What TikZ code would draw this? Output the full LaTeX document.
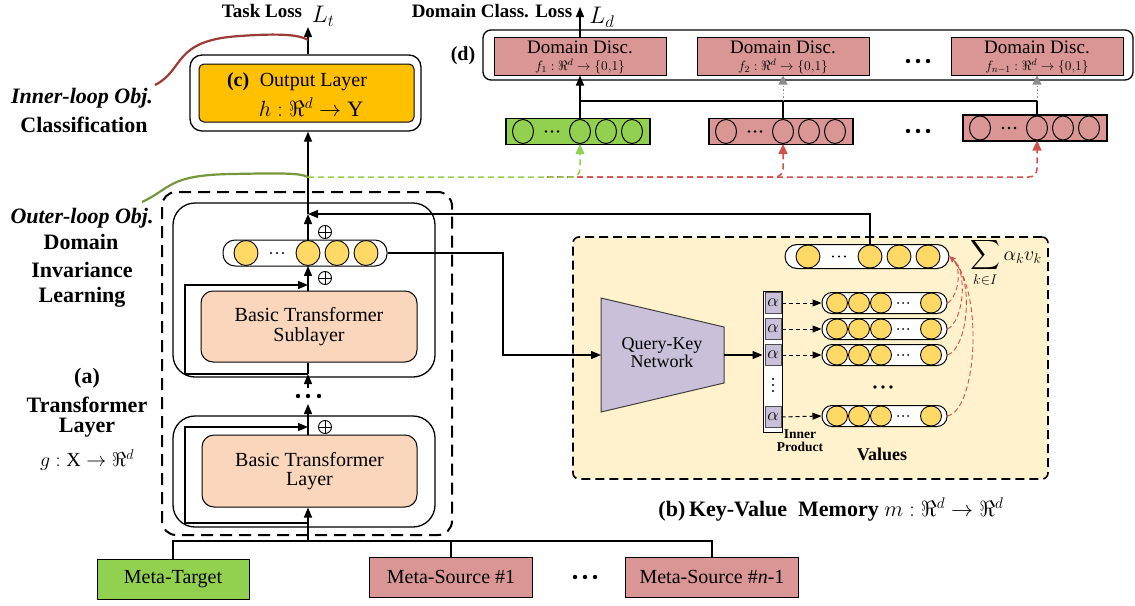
\RequirePackage{fix-cm}
\documentclass[tikz,border=0pt]{standalone}
\usepackage{exscale}
\usepackage{fontspec}
\setmainfont{Liberation Serif}
\usetikzlibrary{arrows.meta,calc,shapes.geometric}

\definecolor{outorange}{HTML}{FFC000}
\definecolor{peach}{HTML}{F9D6BC}
\definecolor{tgtgreen}{HTML}{92D050}
\definecolor{srcpink}{HTML}{D99694}
\definecolor{cellyellow}{HTML}{FFD966}
\definecolor{memback}{HTML}{FFF2CC}
\definecolor{lavender}{HTML}{CBC0DA}
\definecolor{dashred}{HTML}{D0504C}
\definecolor{innerred}{HTML}{9B3B36}
\definecolor{outergreen}{HTML}{76963C}
\definecolor{dashgreen}{HTML}{92D050}
\definecolor{tipgray}{HTML}{8C8C8C}

\newcommand\fsz[2]{\fontsize{#1}{#2}\selectfont}

\tikzset{
  line/.style={line width=1.3pt},
  arr/.style={line width=1.3pt, -{Triangle[length=10pt,width=8pt]}},
  blk/.style={draw, line width=1.3pt, rounded corners=22pt, inner sep=0pt},
  peachbox/.style={draw, fill=peach, line width=1pt, rounded corners=12pt, inner sep=0pt, align=center, font=\fsz{20}{19.5}},
  pill/.style={draw, fill=white, line width=1pt, minimum width=164pt, rounded corners=12pt, inner sep=0pt},
  ycell/.style={ellipse, draw, fill=cellyellow, line width=0.9pt, inner sep=0pt},
  dvec/.style={draw, line width=1.3pt, minimum width=144pt, minimum height=26pt, inner sep=0pt},
  dcell/.style={ellipse, draw, line width=1pt, minimum width=21pt, minimum height=24pt, inner sep=0pt},
  disc/.style={draw, fill=srcpink, line width=1pt, minimum width=172pt, minimum height=38pt, inner sep=0pt},
  metabox/.style={draw, line width=1pt, minimum height=40pt, inner sep=0pt},
  alphacell/.style={draw=black!70, fill=lavender, line width=1pt, minimum width=16pt, minimum height=21pt, inner sep=0pt, font=\fsz{18}{18}},
  lab/.style={font=\bfseries\fsz{22}{24}, inner sep=0pt},
  oplus/.style={circle, draw, line width=0.9pt, minimum size=13pt, inner sep=0pt,
    path picture={\draw[line width=0.9pt] (path picture bounding box.north) -- (path picture bounding box.south)
      (path picture bounding box.west) -- (path picture bounding box.east);}},
  gdash/.style={draw=dashgreen, line width=1.5pt, dash pattern=on 6pt off 4pt, rounded corners=8pt, -{Triangle[length=10pt,width=9pt]}},
  rdash/.style={draw=dashred, line width=1.5pt, dash pattern=on 6pt off 4pt, rounded corners=8pt, -{Triangle[length=10pt,width=9pt]}},
  grayarr/.style={draw=tipgray, line width=1pt, dash pattern=on 1.5pt off 2pt, -{Triangle[length=9pt,width=9pt]}},
  dasharr/.style={line width=1pt, dash pattern=on 4pt off 3pt, -{Triangle[length=9pt,width=7pt]}},
  redcurve/.style={draw=dashred, line width=0.9pt, dash pattern=on 5pt off 3pt, -{Stealth[length=6pt,width=5pt]}},
}

% row of yellow cells inside a rounded pill
\newcommand\cellpill[4]{%
  \node[pill, minimum height=#4pt] (#1) at (#2,#3) {};
  \foreach \o [count=\k] in {-59,3,32,61}
    \node[ycell, minimum width=24pt, minimum height=#4pt-1pt] (#1-\k) at (#2+\o,#3) {};
  \foreach \d in {-6,0,6} \fill (#2-28+\d,#3) circle (1.1pt);
}
% value vector of the memory
\newcommand\valpill[2]{%
  \node[pill, minimum width=125pt, minimum height=21pt, rounded corners=10pt] (#1) at (884.5,#2) {};
  \foreach \x [count=\k] in {837,859,881,931}
    \node[ycell, minimum width=21pt, minimum height=20pt] (#1-\k) at (\x,#2) {};
  \foreach \d in {-5,0,5} \fill (903+\d,#2) circle (1pt);
}
% domain feature vector
\newcommand\domvec[4]{%
  \node[dvec, fill=#4] (#1) at (#2,#3) {};
  \foreach \o [count=\k] in {-55,2,28,54}
    \node[dcell, fill=#4] (#1-\k) at (#2+\o,#3) {};
  \foreach \d in {-6,0,6} \fill (#2-26+\d,#3) circle (1.3pt);
}

\begin{document}
\begin{tikzpicture}[x=1pt,y=-1pt,font=\fsz{20}{22}]
\useasboundingbox (0,0) rectangle (1135,605);

% ---------- (b) key-value memory background
\node[draw, line width=1.6pt, dash pattern=on 9pt off 5pt, fill=memback, rounded corners=6pt,
      minimum width=475pt, minimum height=242pt, inner sep=0pt] (mem) at (810.5,358) {};

% ---------- (a) transformer stack
\node[draw, line width=2pt, dash pattern=on 12pt off 7pt, rounded corners=14pt,
      minimum width=290pt, minimum height=343pt, inner sep=0pt] (abox) at (307,363.5) {};
\node[blk, minimum width=262pt, minimum height=174pt] (ublk) at (304,290) {};
\node[blk, minimum width=262pt, minimum height=111pt] (lblk) at (304,471.5) {};
\node[peachbox, minimum width=216pt, minimum height=71pt] (sub) at (309,326.5) {Basic Transformer\\Sublayer};
\node[peachbox, minimum width=215pt, minimum height=72pt] (lay) at (309.5,471) {Basic Transformer\\Layer};
\cellpill{fv}{305}{253}{26}

% spine coordinates
\coordinate (j1) at (308,214);
\coordinate (oj) at (308,177);
\coordinate (ilend) at (308,40);
\coordinate (lt) at (308,27);
\coordinate (uin) at (308,374);
\coordinate (dhi) at (308,388);
\coordinate (dlo) at (308,404);
\coordinate (lres) at (308,523);
\coordinate (bus) at (308,541);
\coordinate (ul) at (185,330);
\coordinate (ut) at (308,285);
\coordinate (ll) at (185,470);
\coordinate (lt2) at (308,427);

% flow up the stack
\draw[arr] (bus) -- (lay.south -| bus);
\draw[arr] (lres) -| (ll) |- (lt2);
\draw[arr] (lay.north -| bus) -- (dlo);
\foreach \d in {-10,0,11} \fill ($(308,396)+(\d,0)$) circle (2.2pt);
\draw[arr] (dhi) -- (uin);
\draw[line] (uin) -- (sub.south -| uin);
\draw[arr] (uin) -| (ul) |- (ut);
\draw[arr] (sub.north -| fv-2) -- (fv-2.south);
\draw[arr] (fv-2.north) -- (j1);
\node[oplus] (plus1) at (325,232) {};
\node[oplus] (plus2) at (325,278) {};
\node[oplus] (plus3) at (325,427) {};

% ---------- (c) output layer
\node[draw, line width=1.3pt, rounded corners=12pt, minimum width=231pt, minimum height=76pt, inner sep=0pt] (outbox) at (305.5,93) {};
\node[draw, fill=outorange, line width=1pt, rounded corners=5pt, minimum width=215pt, minimum height=58pt, inner sep=0pt] (outlayer) at (306.5,93) {};
\node (outtitle) at (297,82) {\textbf{(c)}\; Output Layer};
\node (outmap) at (311,107) {\fsz{22}{24}$h:\Re^{d}\to\mathrm{Y}$};
\draw[arr] (j1) -- (outbox.south -| j1);
\draw[arr] (outbox.north -| lt) -- (lt);
\node[font=\bfseries\fsz{19}{21}] (taskloss) at (262,11) {Task Loss};
\node (ltlabel) at (323,16) {\fsz{24}{26}$L_t$};

% ---------- objectives
\draw[innerred, line width=2.2pt] (155,85) .. controls (185,70) and (172,40) .. (240,36) .. controls (282,33) and (300,35) .. (ilend);
\draw[outergreen, line width=2.2pt] (142,202) .. controls (172,188) and (168,175) .. (232,174) .. controls (282,173) and (300,173) .. (oj);
\node[lab] (innerl) at (82,98) {\itshape Inner-loop Obj.};
\node[lab] (cls) at (84,125) {Classification};
\node[lab] (outerl) at (82,218) {\itshape Outer-loop Obj.};
\node[lab] (dom) at (81,242) {Domain};
\node[lab] (inv) at (82,270) {Invariance};
\node[lab] (lrn) at (82,297) {Learning};
\node[lab] (alab) at (87,378) {(a)};
\node[lab] (trl) at (87,405) {Transformer};
\node[lab] (lyl) at (87,428) {Layer};
\node (gmap) at (87,460) {$g:\mathrm{X}\to\Re^{d}$};

% ---------- (d) domain discriminators
\node[draw, line width=1.3pt, rounded corners=8pt, minimum width=650pt, minimum height=50pt, inner sep=0pt] (dbox) at (808,55) {};
\node[disc] (d1) at (580,56) {};
\node[disc] (d2) at (783,56) {};
\node[disc] (d3) at (1037,56) {};
\node[font=\fsz{19}{19}] (d1a) at (580,47) {Domain Disc.};
\node[font=\fsz{19}{19}] (d2a) at (783,47) {Domain Disc.};
\node[font=\fsz{19}{19}] (d3a) at (1037,47) {Domain Disc.};
\node[font=\fsz{13.5}{14}] (d1b) at (580,66) {$f_1:\Re^d\to\{0{,}1\}$};
\node[font=\fsz{13.5}{14}] (d2b) at (783,66) {$f_2:\Re^d\to\{0{,}1\}$};
\node[font=\fsz{13.5}{14}] (d3b) at (1037,66) {$f_{n-1}:\Re^d\to\{0{,}1\}$};
\node[font=\bfseries\fsz{20}{20}] (dlab) at (463,56) {(d)};
\foreach \d in {-10,0,10} \fill ($(918,61)+(\d,0)$) circle (2.2pt);
\coordinate (ld) at (580,7);
\draw[arr] (d1.north) -- (ld);
\node[font=\bfseries\fsz{19}{21}] (dloss) at (492,11) {Domain Class. Loss};
\node (ldlabel) at (602,17) {\fsz{24}{26}$L_d$};

\domvec{g}{578}{131.5}{tgtgreen}
\domvec{s1}{781}{131.5}{srcpink}
\domvec{s2}{1035}{128}{srcpink}
\foreach \d in {-10,0,10} \fill ($(918,131)+(\d,0)$) circle (2.2pt);
\coordinate (bl) at (580,101);
\draw[arr] (g-2.north) -- (d1.south);
\draw[line] (g-2 |- bl) -- (s2-2 |- bl);
\draw[line] (s1-2.north) -- (s1-2 |- bl);
\draw[line] (s2-2.north) -- (s2-2 |- bl);
\draw[grayarr] (s1-2 |- bl) -- (d2.south);
\draw[grayarr] (s2-2 |- bl) -- (d3.south);

% representations sent to the discriminators
\coordinate (rj) at (547,177);
\draw[rdash] (rj) -| (s2-2.south);
\draw[rdash] (rj) -| (s1-2.south);
\draw[gdash] (oj) -| (g-2.south);

% ---------- (b) memory contents
\cellpill{mv}{867}{256.5}{24}
\draw[arr] (mv-2.north) |- (j1);

\coordinate (qa) at (601,298);
\coordinate (qb) at (724,327);
\coordinate (qc) at (724,383);
\coordinate (qd) at (601,412);
\draw[fill=lavender, draw=black!75, line width=1pt] (qa) -- (qb) -- (qc) -- (qd) -- cycle;
\node[align=center, font=\fsz{18}{18}] (qk) at (662,353) {Query-Key\\Network};
\coordinate (qin) at (601,355);
\coordinate (qout) at (724,355);
\coordinate (elb) at (503,300);
\draw[arr] (fv.east) -| (elb) |- (qin);

\node[draw, fill=white, line width=1pt, minimum width=19pt, minimum height=141pt, inner sep=0pt] (ip) at (772.5,361.5) {};
\draw[arr] (qout) -- (ip.west |- qout);
\node[alphacell] (a1) at (773,303) {$\alpha$};
\node[alphacell] (a2) at (773,329) {$\alpha$};
\node[alphacell] (a3) at (773,355) {$\alpha$};
\node[alphacell] (a4) at (773,417) {$\alpha$};
\foreach \d in {-6,0,6} \fill ($(773,385)+(0,\d)$) circle (1.1pt);

\valpill{v1}{303}
\valpill{v2}{329}
\valpill{v3}{355}
\valpill{v4}{416}
\foreach \d in {-8,0,8} \fill ($(883,387)+(\d,0)$) circle (1.8pt);
\draw[dasharr] (a1.east) -- (v1.west);
\draw[dasharr] (a2.east) -- (v2.west);
\draw[dasharr] (a3.east) -- (v3.west);
\draw[dasharr] (a4.east) -- (v4.west);
\draw[redcurve] (v1.east) .. controls (958,297) and (963,268) .. (mv.east);
\draw[redcurve] (v2.east) .. controls (963,322) and (969,272) .. (mv.east);
\draw[redcurve] (v3.east) .. controls (968,348) and (975,278) .. (mv.east);
\draw[redcurve] (v4.east) .. controls (977,410) and (984,290) .. (mv.east);

\node (sum) at (1006,263) {$\displaystyle\sum_{k\in I}\alpha_k v_k$};
\node[align=center, font=\bfseries\fsz{13.5}{13}] (iplab) at (800,441) {Inner\\Product};
\node[font=\bfseries\fsz{18}{18}] (vallab) at (882,454) {Values};
\node (bcap) at (831,510) {\fsz{22}{24}\textbf{(b)}\,\textbf{Key-Value\ \ Memory} $m:\Re^d\to\Re^d$};

% ---------- inputs
\node[metabox, fill=tgtgreen, minimum width=152pt] (tgt) at (173,579) {Meta-Target};
\node[metabox, fill=srcpink, minimum width=163pt] (src1) at (451,577) {Meta-Source \#1};
\node[metabox, fill=srcpink, minimum width=173pt] (src2) at (712,577) {Meta-Source \#\textit{n}-1};
\foreach \d in {-10,0,10} \fill ($(585,577)+(\d,0)$) circle (2.2pt);
\draw[line] (tgt.north) |- (bus) -- (bus -| src2) -- (src2.north);
\draw[line] (src1.north) -- (src1.north |- bus);
\end{tikzpicture}
\end{document}
